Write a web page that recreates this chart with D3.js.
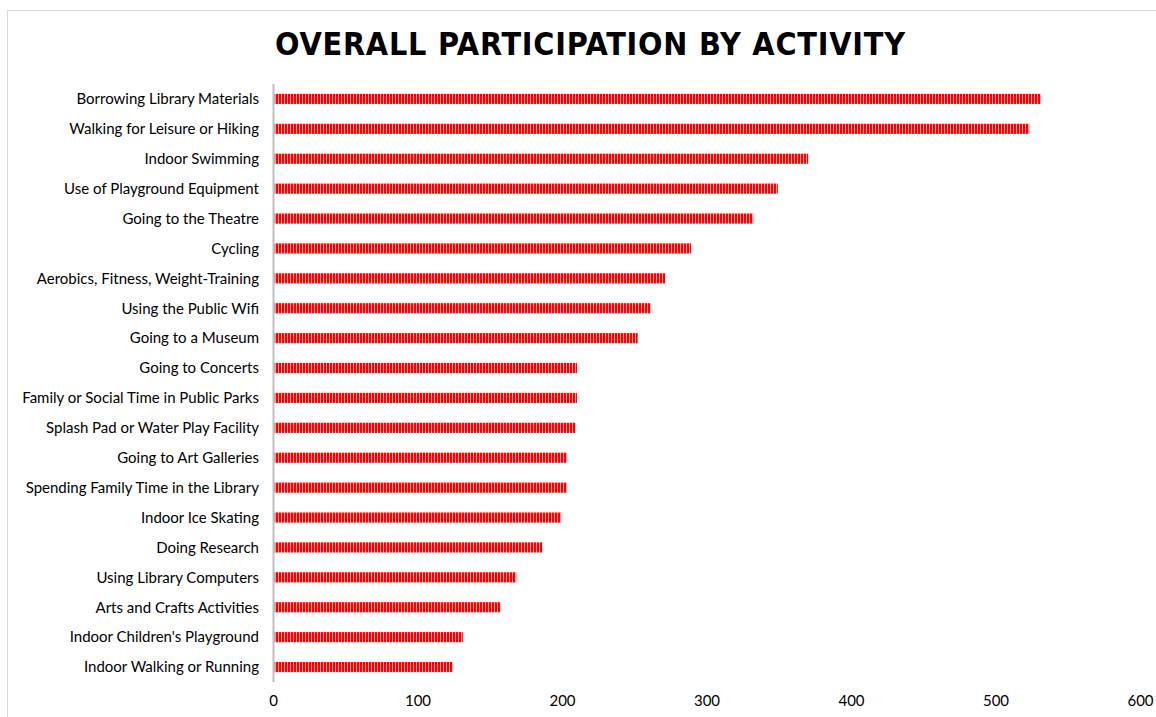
<!DOCTYPE html>
<html>
<head>
<meta charset="utf-8">
<script src="https://cdn.jsdelivr.net/npm/d3@7"></script>
<style>
  body { margin: 0; background: #fff; }
  svg { display: block; }
</style>
</head>
<body>
<script>
// activities, top to bottom
var activities = [
  "Borrowing Library Materials",
  "Walking for Leisure or Hiking",
  "Indoor Swimming",
  "Use of Playground Equipment",
  "Going to the Theatre",
  "Cycling",
  "Aerobics, Fitness, Weight-Training",
  "Using the Public Wifi",
  "Going to a Museum",
  "Going to Concerts",
  "Family or Social Time in Public Parks",
  "Splash Pad or Water Play Facility",
  "Going to Art Galleries",
  "Spending Family Time in the Library",
  "Indoor Ice Skating",
  "Doing Research",
  "Using Library Computers",
  "Arts and Crafts Activities",
  "Indoor Children's Playground",
  "Indoor Walking or Running"
];
var participants = [531, 523, 370, 349, 332, 289, 271, 261, 252, 210,
                    210, 209, 203, 203, 199, 186, 168, 157, 131, 124];
var xTicks = [0, 100, 200, 300, 400, 500, 600];
var title = "OVERALL PARTICIPATION BY ACTIVITY";

var width = 1156, height = 717;
var margin = {top: 84, right: 16, bottom: 35, left: 273.5};

var svg = d3.select("body").append("svg")
    .attr("width", width)
    .attr("height", height);

// chart frame
svg.append("rect")
    .attr("x", 7.5).attr("y", 10.5)
    .attr("width", 1160).attr("height", 720)
    .attr("fill", "#fff")
    .attr("stroke", "#d9d9d9")
    .attr("stroke-width", 1);

// striped fill for the bars
var defs = svg.append("defs");
var pat = defs.append("pattern")
    .attr("id", "stripes")
    .attr("patternUnits", "userSpaceOnUse")
    .attr("width", 3).attr("height", 10);
pat.append("rect").attr("width", 3).attr("height", 10).attr("fill", "#ff0000");
pat.append("rect").attr("x", 2).attr("width", 1).attr("height", 10).attr("fill", "#ffa0a0");

var x = d3.scaleLinear()
    .domain([0, 600])
    .range([margin.left, 1140.5]);

var y = d3.scaleBand()
    .domain(activities)
    .range([margin.top, 682])
    .paddingInner(0.66)
    .paddingOuter(0.33);

// title
svg.append("text")
    .attr("x", 275)
    .attr("y", 55)
    .attr("font-family", "'DejaVu Sans Condensed', 'DejaVu Sans', sans-serif")
    .attr("font-stretch", "condensed")
    .attr("font-weight", "bold")
    .attr("font-size", "32px")
    .attr("textLength", 630)
    .attr("lengthAdjust", "spacing")
    .attr("fill", "#000")
    .text(title);

// bars
svg.selectAll(".bar")
    .data(participants)
    .enter().append("rect")
    .attr("class", "bar")
    .attr("x", x(0) + 1)
    .attr("y", function(d, i) { return y(activities[i]); })
    .attr("width", function(d) { return x(d) - x(0) - 1; })
    .attr("height", y.bandwidth())
    .attr("fill", "url(#stripes)");

// category labels
svg.selectAll(".cat")
    .data(activities)
    .enter().append("text")
    .attr("class", "cat")
    .attr("x", 259)
    .attr("y", function(d) { return y(d) + y.bandwidth() / 2; })
    .attr("dy", "0.35em")
    .attr("text-anchor", "end")
    .attr("font-family", "'Lato', sans-serif")
    .attr("font-size", "15px")
    .attr("fill", "#000")
    .text(function(d) { return d; });

// vertical axis line
svg.append("line")
    .attr("x1", x(0)).attr("x2", x(0))
    .attr("y1", margin.top).attr("y2", 682)
    .attr("stroke", "#bfbfbf")
    .attr("stroke-width", 2);

// x tick labels
svg.selectAll(".tick-label")
    .data(xTicks)
    .enter().append("text")
    .attr("class", "tick-label")
    .attr("x", function(d) { return x(d); })
    .attr("y", 701)
    .attr("dy", "0.35em")
    .attr("text-anchor", "middle")
    .attr("font-family", "'Lato', sans-serif")
    .attr("font-size", "15px")
    .attr("fill", "#000")
    .text(function(d) { return d; });
</script>
</body>
</html>
